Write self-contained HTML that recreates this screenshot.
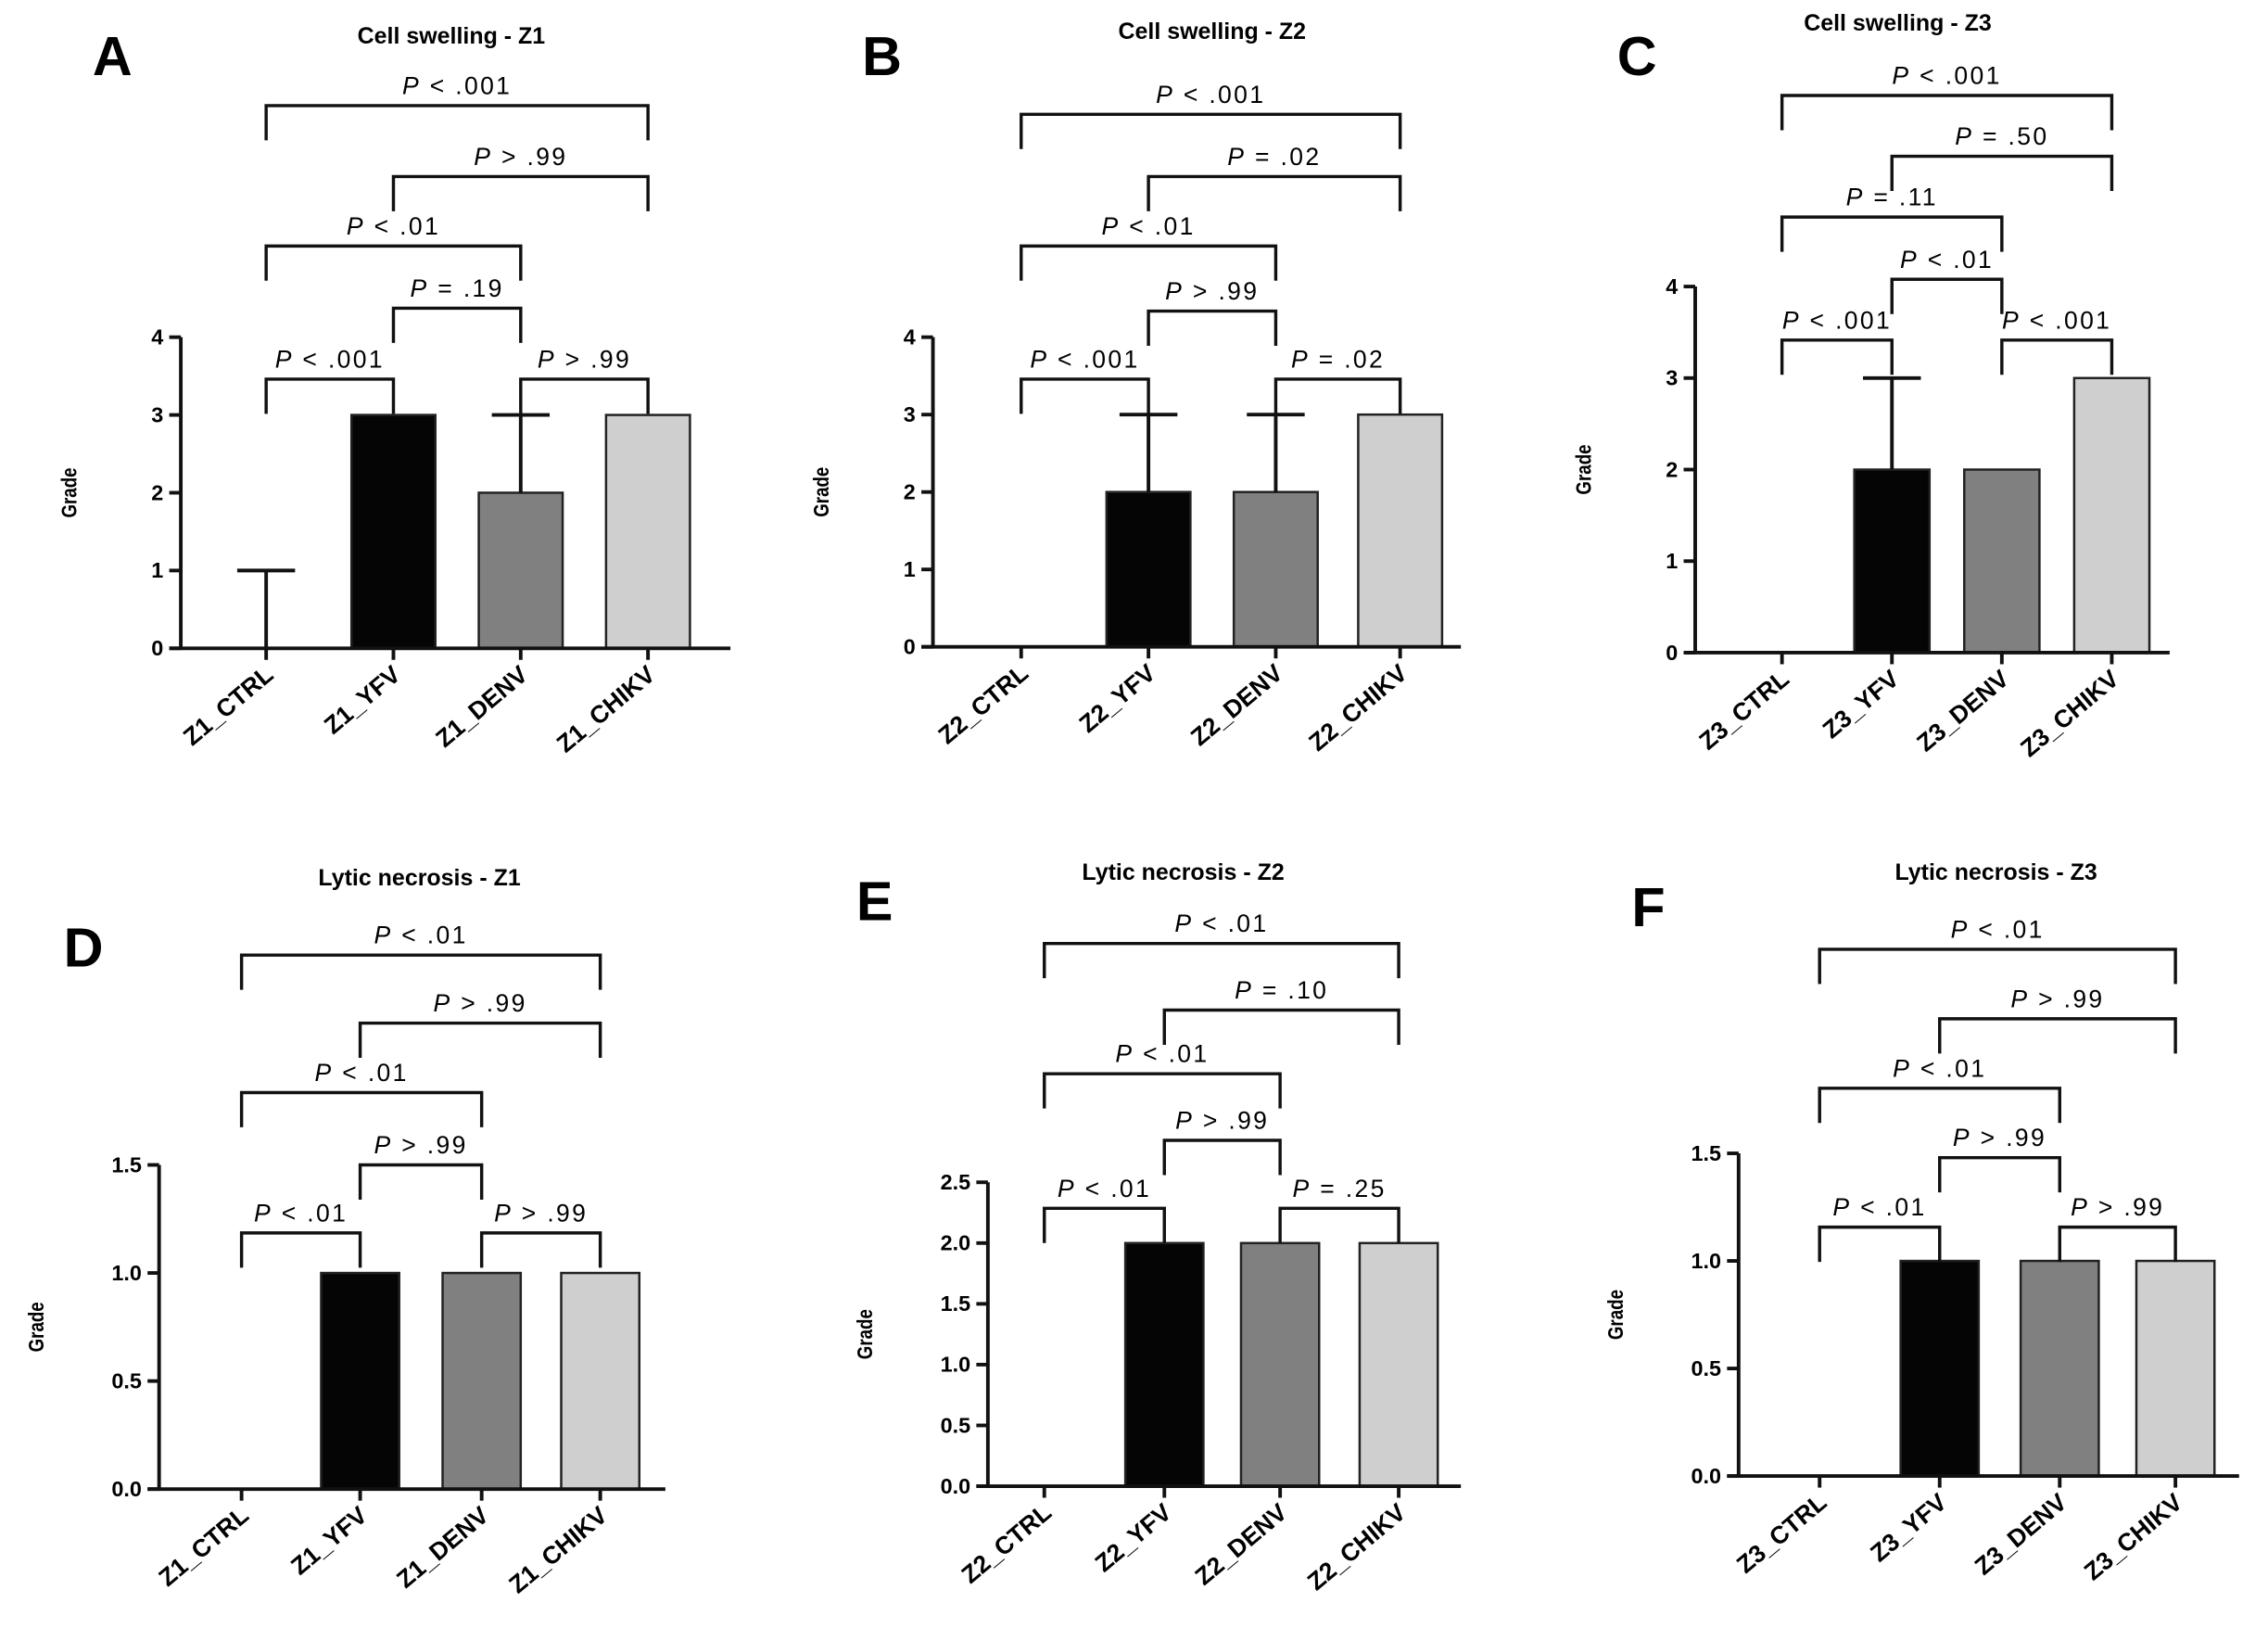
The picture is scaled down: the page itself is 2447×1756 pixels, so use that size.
<!DOCTYPE html>
<html><head><meta charset="utf-8"><style>
html,body{margin:0;padding:0;background:#fff}
svg{display:block}
text{font-family:"Liberation Sans",Arial,sans-serif}
</style></head><body>
<svg id="fig" width="2447" height="1756" viewBox="0 0 1568 1125" preserveAspectRatio="none"></svg>
<script>
const NS="http://www.w3.org/2000/svg";
const svg=document.getElementById('fig');
// ---- data ----
const panelLetters=["A","B","C","D","E","F"];
const panelTitles=["Cell swelling - Z1","Cell swelling - Z2","Cell swelling - Z3","Lytic necrosis - Z1","Lytic necrosis - Z2","Lytic necrosis - Z3"];
const categoriesZ1=["Z1_CTRL","Z1_YFV","Z1_DENV","Z1_CHIKV"];
const categoriesZ2=["Z2_CTRL","Z2_YFV","Z2_DENV","Z2_CHIKV"];
const categoriesZ3=["Z3_CTRL","Z3_YFV","Z3_DENV","Z3_CHIKV"];
const swellingZ1=[0,3,2,3], swellingZ1Err=[1,3,3,3];
const swellingZ2=[0,2,2,3], swellingZ2Err=[0,3,3,3];
const swellingZ3=[0,2,2,3], swellingZ3Err=[0,3,2,3];
const necrosisZ1=[0,1,1,1], necrosisZ1Err=[0,1,1,1];
const necrosisZ2=[0,2,2,2], necrosisZ2Err=[0,2,2,2];
const necrosisZ3=[0,1,1,1], necrosisZ3Err=[0,1,1,1];
const ticksSwelling=["0","1","2","3","4"];
const ticksNecrosis15=["0.0","0.5","1.0","1.5"];
const ticksNecrosis25=["0.0","0.5","1.0","1.5","2.0","2.5"];
const pLabelsA=["P < .001","P > .99","P < .01","P = .19","P < .001","P > .99"];
const pLabelsB=["P < .001","P = .02","P < .01","P > .99","P < .001","P = .02"];
const pLabelsC=["P < .001","P = .50","P = .11","P < .01","P < .001","P < .001"];
const pLabelsD=["P < .01","P > .99","P < .01","P > .99","P < .01","P > .99"];
const pLabelsE=["P < .01","P = .10","P < .01","P > .99","P < .01","P = .25"];
const pLabelsF=["P < .01","P > .99","P < .01","P > .99","P < .01","P > .99"];
const pairs=[[0,3],[1,3],[0,2],[1,2],[0,1],[2,3]];
const fills=["#fff","#050505","#808080","#cfcfcf"];
// ---- layout ----
const panels=[
 {cats:categoriesZ1,vals:swellingZ1,err:swellingZ1Err,ticks:ticksSwelling,max:4,ax:125,top:233,bot:448,xEnd:505,cx:[184,272,360,448],bw:58,title:[312,30],letter:[64,52],p:pLabelsA,by:[73,122,170,213,262,262]},
 {cats:categoriesZ2,vals:swellingZ2,err:swellingZ2Err,ticks:ticksSwelling,max:4,ax:645,top:233,bot:447,xEnd:1010,cx:[706,794,882,968],bw:58,title:[838,27],letter:[596,52],p:pLabelsB,by:[79,122,170,215,262,262]},
 {cats:categoriesZ3,vals:swellingZ3,err:swellingZ3Err,ticks:ticksSwelling,max:4,ax:1172,top:198,bot:451,xEnd:1500,cx:[1232,1308,1384,1460],bw:52,title:[1312,21],letter:[1118,52],p:pLabelsC,by:[66,108,150,193,235,235]},
 {cats:categoriesZ1,vals:necrosisZ1,err:necrosisZ1Err,ticks:ticksNecrosis15,max:1.5,ax:110,top:805,bot:1029,xEnd:460,cx:[167,249,333,415],bw:54,title:[290,612],letter:[44,668],p:pLabelsD,by:[660,707,755,805,852,852]},
 {cats:categoriesZ2,vals:necrosisZ2,err:necrosisZ2Err,ticks:ticksNecrosis25,max:2.5,ax:683,top:817,bot:1027,xEnd:1010,cx:[722,805,885,967],bw:54,title:[818,608],letter:[592,636],p:pLabelsE,by:[652,698,742,788,835,835]},
 {cats:categoriesZ3,vals:necrosisZ3,err:necrosisZ3Err,ticks:ticksNecrosis15,max:1.5,ax:1202,top:797,bot:1020,xEnd:1548,cx:[1258,1341,1424,1504],bw:54,title:[1380,608],letter:[1128,640],p:pLabelsF,by:[656,704,752,800,848,848]}
];
function mk(tag,attrs,parent){const e=document.createElementNS(NS,tag);for(const k in attrs)e.setAttribute(k,attrs[k]);(parent||svg).appendChild(e);return e;}
function txt(s,attrs,parent){const t=mk('text',attrs,parent);t.textContent=s;return t;}
panels.forEach((P,pi)=>{
 const g=mk('g',{});
 
 
 const y=v=>P.bot-(v/P.max)*(P.bot-P.top);
 const L=txt(panelLetters[pi],{x:P.letter[0],y:P.letter[1],'font-size':38,'font-weight':'bold'},g);
 
 
 const T=txt(panelTitles[pi],{x:P.title[0],y:P.title[1],'font-size':16,'font-weight':'bold','text-anchor':'middle'},g);
 
 
 // bars
 P.vals.forEach((v,i)=>{
  const x=P.cx[i];
  if(v>0){
   const r=mk('rect',{x:x-P.bw/2,y:y(v),width:P.bw,height:P.bot-y(v),fill:fills[i],stroke:'#222','stroke-width':1.6},g);
   
   
  }
  if(P.err[i]>v){
   const e=mk('path',{d:`M${x} ${y(v)}V${y(P.err[i])}M${x-20} ${y(P.err[i])}H${x+20}`,stroke:'#111','stroke-width':2.5,fill:'none'},g);
   
   
  }
  mk('line',{x1:x,x2:x,y1:P.bot,y2:P.bot+8,stroke:'#111','stroke-width':2.5},g);
  const c=txt(P.cats[i],{x:0,y:0,'font-size':17,'font-weight':'bold','text-anchor':'end',transform:`translate(${x+6},${P.bot+20}) rotate(-40)`},g);
  
  
 });
 // axes
 const ya=mk('line',{x1:P.ax,x2:P.ax,y1:P.top,y2:P.bot,stroke:'#111','stroke-width':2.5},g);
 
 
 const xa=mk('line',{x1:P.ax-8,x2:P.xEnd,y1:P.bot,y2:P.bot,stroke:'#111','stroke-width':2.5},g);
 
 
 P.ticks.forEach(t=>{
  const ty=y(parseFloat(t));
  mk('line',{x1:P.ax-8,x2:P.ax,y1:ty,y2:ty,stroke:'#111','stroke-width':2.5},g);
  const tl=txt(t,{x:P.ax-12,y:ty+5,'font-size':15,'font-weight':'bold','text-anchor':'end'},g);
  
  
 });
 const gy=(P.top+P.bot)/2;
 const gl=txt('Grade',{x:0,y:0,'font-size':15,'font-weight':'bold','text-anchor':'middle',transform:`translate(${P.ax-(P.max===4?72:80)},${gy}) rotate(-90) scale(0.8,1)`},g);
 
 
 // brackets
 pairs.forEach((pr,k)=>{
  const x1=P.cx[pr[0]],x2=P.cx[pr[1]],by=P.by[k];
  const b=mk('path',{d:`M${x1} ${by+24}V${by}H${x2}V${by+24}`,stroke:'#111','stroke-width':2.2,fill:'none'},g);
  
  
  const lbl=P.p[k];
  const t=mk('text',{x:(x1+x2)/2,y:by-8,'font-size':17,'text-anchor':'middle','letter-spacing':'1.5'},g);
  const it=document.createElementNS(NS,'tspan');it.setAttribute('font-style','italic');it.textContent='P';t.appendChild(it);
  t.appendChild(document.createTextNode(lbl.slice(1)));
  
  
 });
});
</script>
</body></html>
